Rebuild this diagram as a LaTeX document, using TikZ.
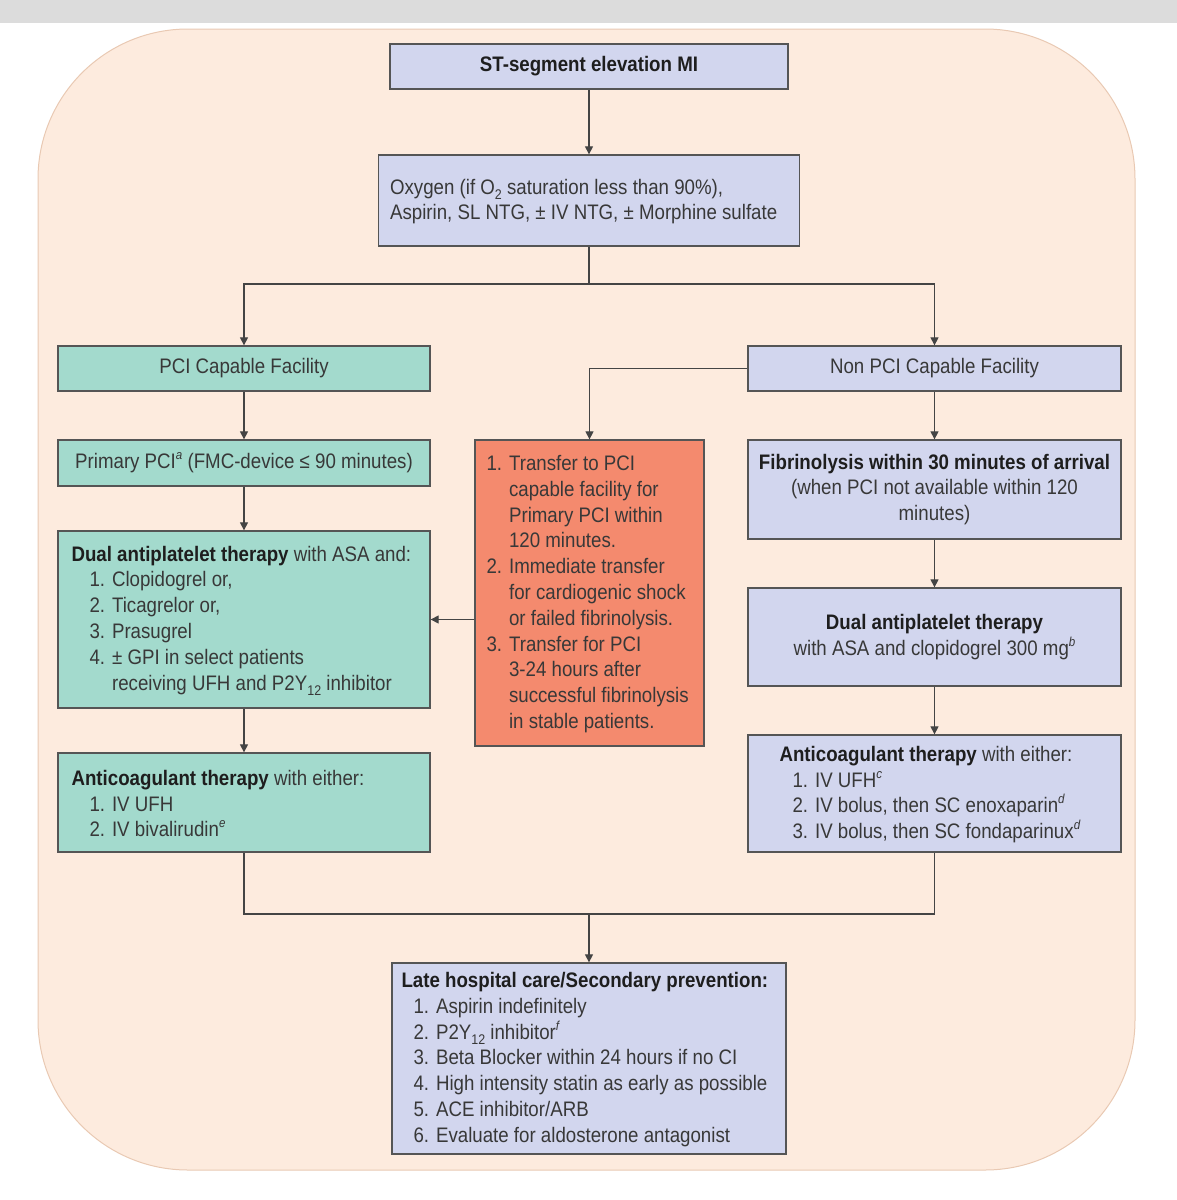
\documentclass[tikz,border=0pt]{standalone}
\usepackage{fontspec}
\setmainfont{Liberation Sans}[FakeStretch=0.89]
\usetikzlibrary{arrows.meta}
\definecolor{peach}{HTML}{FDEBDE}
\definecolor{peachline}{HTML}{E9C9B3}
\definecolor{topgray}{HTML}{DCDCDC}
\definecolor{lav}{HTML}{D2D6EE}
\definecolor{teal}{HTML}{A3DACD}
\definecolor{orng}{HTML}{F48A6E}
\definecolor{boxline}{HTML}{555555}
\definecolor{linec}{HTML}{444444}
\definecolor{txtc}{HTML}{383838}
\definecolor{hdc}{HTML}{1E1E1E}
\newcommand\fnt{\fontsize{21}{25.8}\selectfont}
\newcommand\mysub[1]{\raisebox{-0.45ex}{\fontsize{14}{14}\selectfont #1}}
\newcommand\mysup[1]{\raisebox{0.8ex}{\fontsize{13}{13}\selectfont\itshape #1}}
\newcommand\hd[1]{\textcolor{hdc}{\textbf{#1}}}
\begin{document}
\begin{tikzpicture}[x=1pt,y=-1pt,
  box/.style={draw=boxline, line width=1.3pt, inner sep=0pt, font=\fnt, text=txtc, align=center},
  txt/.style={font=\fnt, text=txtc, align=left, inner sep=0pt, anchor=west},
  arr/.style={draw=linec, line width=1.2pt, -{Triangle[width=8pt,length=8pt]}},
  ln/.style={draw=linec, line width=1.2pt}]
\useasboundingbox (0,0) rectangle (1177,1200);
\fill[topgray] (0,0) rectangle (1177,23);
\draw[draw=peachline, line width=1pt, fill=peach, rounded corners=150pt] (38,29) rectangle (1135,1170);

% boxes
\node[box, fill=lav, minimum width=398pt, minimum height=45pt] (st) at (589,66.5) {\hd{ST-segment elevation MI}};
\node[box, fill=lav, minimum width=421pt, minimum height=91pt] (oxy) at (589,200.5) {};
\node[txt] (oxyt) at ([xshift=12pt,yshift=-1pt]oxy.west) {Oxygen (if O\mysub{2} saturation less than 90\%),\\Aspirin, SL NTG, ± IV NTG, ± Morphine sulfate};

\node[box, fill=teal, minimum width=372pt, minimum height=45pt] (pci) at (244,368.5) {PCI Capable Facility};
\node[box, fill=lav, minimum width=373pt, minimum height=45pt] (npci) at (934.5,368.5) {Non PCI Capable Facility};

\node[box, fill=teal, minimum width=372pt, minimum height=46pt] (prim) at (244,463) {Primary PCI\mysup{a} (FMC-device ≤ 90 minutes)};

\node[box, fill=teal, minimum width=372pt, minimum height=177pt] (daptl) at (244,619.5) {};
\node[txt] (daptlt) at ([xshift=14pt,yshift=-1pt]daptl.west) {\hd{Dual antiplatelet therapy} with ASA and:\\
\hspace*{18pt}1. Clopidogrel or,\\
\hspace*{18pt}2. Ticagrelor or,\\
\hspace*{18pt}3. Prasugrel\\
\hspace*{18pt}4. ± GPI in select patients\\
\hspace*{18pt}\phantom{4. }receiving UFH and P2Y\mysub{12} inhibitor};

\node[box, fill=orng, minimum width=229pt, minimum height=306pt] (tr) at (589.5,593) {};
\node[txt] (trt) at ([xshift=12pt,yshift=-1pt]tr.west) {1. Transfer to PCI\\
\phantom{1. }capable facility for\\
\phantom{1. }Primary PCI within\\
\phantom{1. }120 minutes.\\
2. Immediate transfer\\
\phantom{2. }for cardiogenic shock\\
\phantom{2. }or failed fibrinolysis.\\
3. Transfer for PCI\\
\phantom{3. }3-24 hours after\\
\phantom{3. }successful fibrinolysis\\
\phantom{3. }in stable patients.};

\node[box, fill=lav, minimum width=373pt, minimum height=99pt] (fib) at (934.5,489.5) {\hd{Fibrinolysis within 30 minutes of arrival}\\(when PCI not available within 120\\minutes)};

\node[box, fill=lav, minimum width=373pt, minimum height=98pt] (daptr) at (934.5,637) {\hd{Dual antiplatelet therapy}\\with ASA and clopidogrel 300 mg\mysup{b}};

\node[box, fill=lav, minimum width=373pt, minimum height=117pt] (acr) at (934.5,793.5) {};
\node[txt] (acrt) at ([xshift=32pt,yshift=-1pt]acr.west) {\hd{Anticoagulant therapy} with either:\\
\hspace*{13pt}1. IV UFH\mysup{c}\\
\hspace*{13pt}2. IV bolus, then SC enoxaparin\mysup{d}\\
\hspace*{13pt}3. IV bolus, then SC fondaparinux\mysup{d}};

\node[box, fill=teal, minimum width=372pt, minimum height=99pt] (acl) at (244,802.5) {};
\node[txt] (aclt) at ([xshift=14pt,yshift=-1pt]acl.west) {\hd{Anticoagulant therapy} with either:\\
\hspace*{18pt}1. IV UFH\\
\hspace*{18pt}2. IV bivalirudin\mysup{e}};

\node[box, fill=lav, minimum width=394pt, minimum height=191pt] (late) at (589,1058.5) {};
\node[txt] (latet) at ([xshift=10pt,yshift=-1pt]late.west) {\hd{Late hospital care/Secondary prevention:}\\
\hspace*{12pt}1. Aspirin indefinitely\\
\hspace*{12pt}2. P2Y\mysub{12} inhibitor\mysup{f}\\
\hspace*{12pt}3. Beta Blocker within 24 hours if no CI\\
\hspace*{12pt}4. High intensity statin as early as possible\\
\hspace*{12pt}5. ACE inhibitor/ARB\\
\hspace*{12pt}6. Evaluate for aldosterone antagonist};

% connectors
\coordinate (j1) at (589,284);
\coordinate (j2) at (589,914);
\draw[arr] (st.south) -- (oxy.north);
\draw[ln] (oxy.south) -- (j1);
\draw[arr] (j1) -| (pci.north);
\draw[arr] (j1) -| (npci.north);
\draw[arr] (npci.west) -| (tr.north);
\draw[arr] (npci.south) -- (fib.north);
\draw[arr] (pci.south) -- (prim.north);
\draw[arr] (prim.south) -- (daptl.north);
\draw[arr] (daptl.south) -- (acl.north);
\draw[arr] (tr.west |- daptl.east) -- (daptl.east);
\draw[arr] (fib.south) -- (daptr.north);
\draw[arr] (daptr.south) -- (acr.north);
\draw[ln] (acl.south) |- (j2) -| (acr.south);
\draw[arr] (j2) -- (late.north);
\end{tikzpicture}
\end{document}
